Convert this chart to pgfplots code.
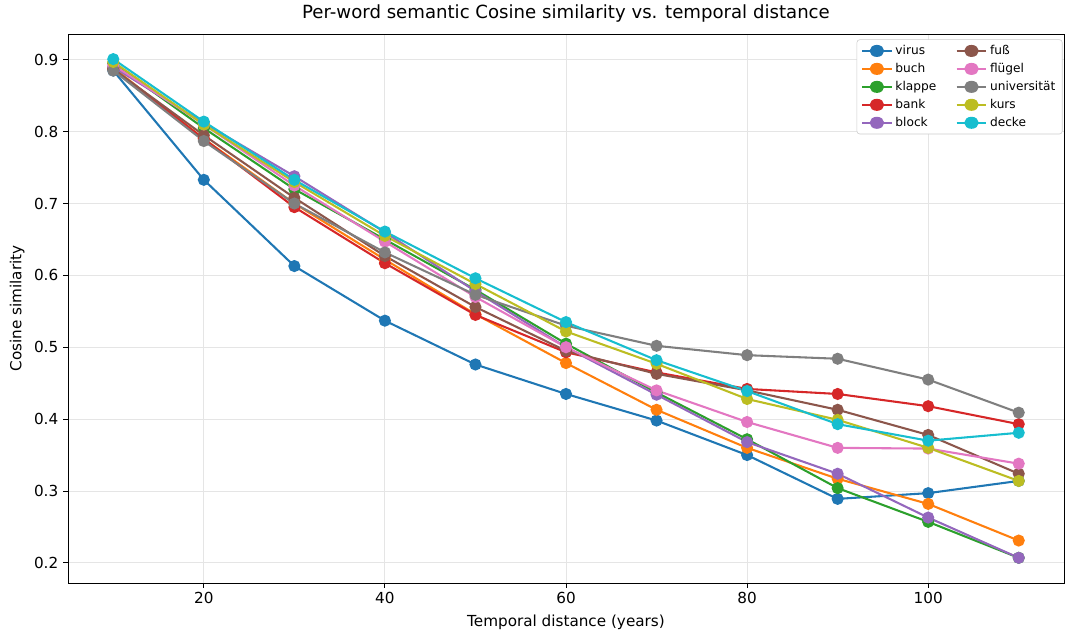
\documentclass[border=0pt]{standalone}
\usepackage{fontspec}
\setmainfont{DejaVu Sans}
\usepackage{pgfplots}
\pgfplotsset{compat=1.18}
\definecolor{c0}{HTML}{1F77B4}
\definecolor{c1}{HTML}{FF7F0E}
\definecolor{c2}{HTML}{2CA02C}
\definecolor{c3}{HTML}{D62728}
\definecolor{c4}{HTML}{9467BD}
\definecolor{c5}{HTML}{8C564B}
\definecolor{c6}{HTML}{E377C2}
\definecolor{c7}{HTML}{7F7F7F}
\definecolor{c8}{HTML}{BCBD22}
\definecolor{c9}{HTML}{17BECF}
\begin{document}
\begin{tikzpicture}
\begin{axis}[
  scale only axis,
  width=9.96in, height=5.49in,
  xmin=5, xmax=115, ymin=0.172, ymax=0.936,
  xtick={20,40,60,80,100},
  ytick={0.2,0.3,0.4,0.5,0.6,0.7,0.8,0.9},
  /pgf/number format/assume math mode=true,
  yticklabel style={/pgf/number format/fixed,/pgf/number format/precision=1,/pgf/number format/fixed zerofill},
  tick label style={font=\fontsize{11}{13}\selectfont},
  tick align=outside, tick pos=left,
  major tick length=3.5pt,
  tick style={black, line width=0.6pt},
  axis line style={line width=0.6pt},
  grid=major,
  grid style={line width=0.6pt, gray!20},
  title={Per-word semantic Cosine similarity vs. temporal distance},
  title style={font=\fontsize{13.1}{15}\selectfont, yshift=-1pt},
  xlabel={Temporal distance (years)},
  ylabel={Cosine similarity},
  label style={font=\fontsize{11}{13}\selectfont},
  xlabel style={yshift=-1pt},
  ylabel style={yshift=0pt},
  legend columns=5,
  transpose legend,
  legend cell align=left,
  legend image post style={xscale=1.25},
  legend style={font=\fontsize{8.8}{11}\selectfont, draw=gray!40, rounded corners=2pt, at={(0.9985,0.99)}, anchor=north east, inner xsep=3pt, inner ysep=2pt, row sep=0.8pt, /tikz/every even column/.append style={column sep=12pt}},
  every axis plot/.append style={line width=1.5pt, mark=*, mark size=3.6pt, mark options={solid}},
]
\addplot[c0] coordinates {(10,0.885)(20,0.733)(30,0.613)(40,0.537)(50,0.476)(60,0.435)(70,0.398)(80,0.350)(90,0.289)(100,0.297)(110,0.314)};
\addlegendentry{virus}
\addplot[c1] coordinates {(10,0.889)(20,0.790)(30,0.700)(40,0.622)(50,0.546)(60,0.478)(70,0.413)(80,0.360)(90,0.317)(100,0.282)(110,0.231)};
\addlegendentry{buch}
\addplot[c2] coordinates {(10,0.895)(20,0.805)(30,0.720)(40,0.650)(50,0.580)(60,0.505)(70,0.437)(80,0.372)(90,0.304)(100,0.257)(110,0.207)};
\addlegendentry{klappe}
\addplot[c3] coordinates {(10,0.887)(20,0.790)(30,0.695)(40,0.617)(50,0.545)(60,0.493)(70,0.465)(80,0.442)(90,0.435)(100,0.418)(110,0.393)};
\addlegendentry{bank}
\addplot[c4] coordinates {(10,0.890)(20,0.812)(30,0.738)(40,0.660)(50,0.578)(60,0.500)(70,0.434)(80,0.368)(90,0.324)(100,0.263)(110,0.207)};
\addlegendentry{block}
\addplot[c5] coordinates {(10,0.887)(20,0.795)(30,0.708)(40,0.627)(50,0.556)(60,0.495)(70,0.463)(80,0.440)(90,0.413)(100,0.378)(110,0.324)};
\addlegendentry{fuß}
\addplot[c6] coordinates {(10,0.893)(20,0.810)(30,0.725)(40,0.647)(50,0.570)(60,0.500)(70,0.440)(80,0.396)(90,0.360)(100,0.359)(110,0.338)};
\addlegendentry{flügel}
\addplot[c7] coordinates {(10,0.885)(20,0.787)(30,0.700)(40,0.632)(50,0.573)(60,0.530)(70,0.502)(80,0.489)(90,0.484)(100,0.455)(110,0.409)};
\addlegendentry{universität}
\addplot[c8] coordinates {(10,0.897)(20,0.810)(30,0.730)(40,0.655)(50,0.588)(60,0.522)(70,0.477)(80,0.428)(90,0.399)(100,0.360)(110,0.314)};
\addlegendentry{kurs}
\addplot[c9] coordinates {(10,0.901)(20,0.814)(30,0.733)(40,0.661)(50,0.596)(60,0.535)(70,0.482)(80,0.439)(90,0.393)(100,0.370)(110,0.381)};
\addlegendentry{decke}
\end{axis}
\path ([xshift=-0.68in,yshift=-0.52in]current axis.south west) rectangle ([xshift=0.01in,yshift=0.33in]current axis.north east);
\end{tikzpicture}
\end{document}
